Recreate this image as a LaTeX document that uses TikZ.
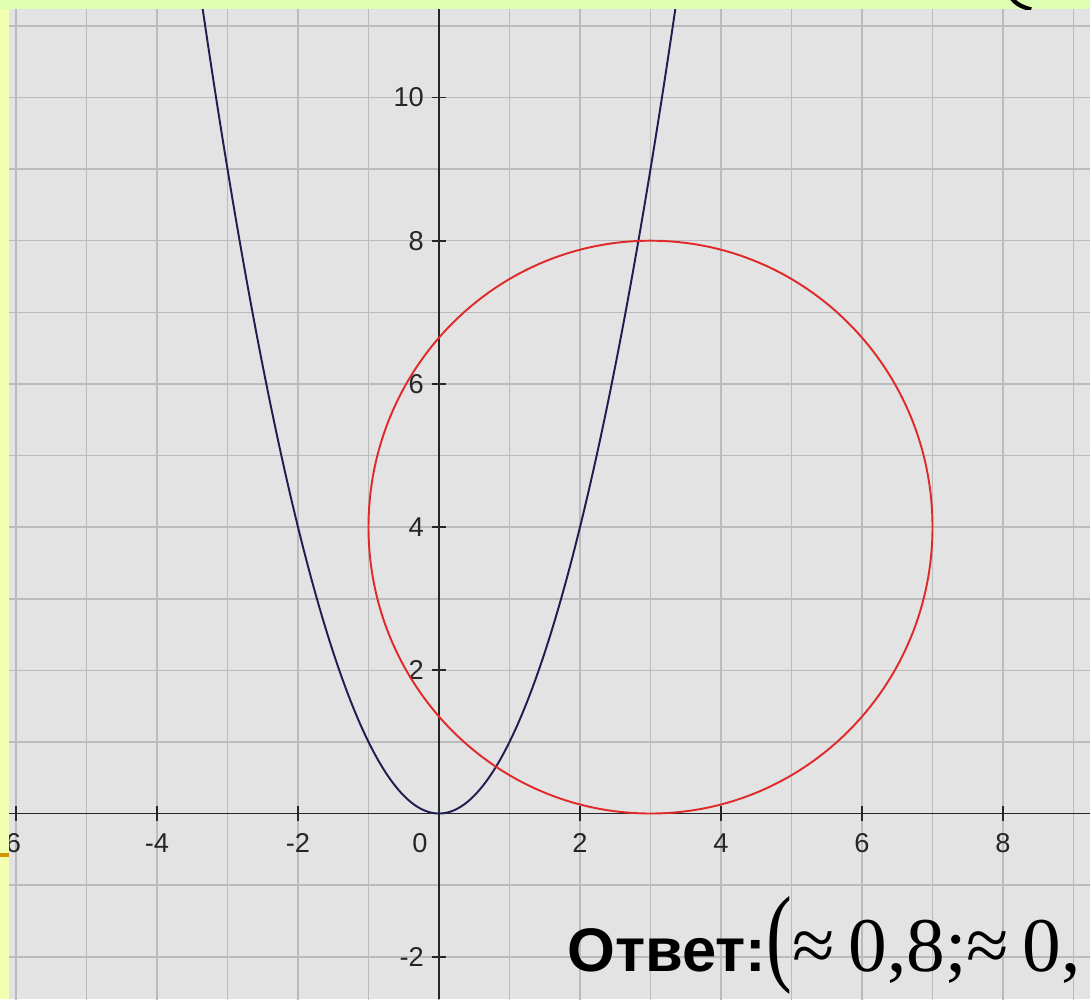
\documentclass[tikz,border=0pt]{standalone}
\usepackage{graphicx}
\usepackage{fontspec}
\setmainfont{Liberation Serif}
\setsansfont{Liberation Sans}
\usetikzlibrary{positioning}
\definecolor{panelgray}{HTML}{E3E3E3}
\definecolor{gridgray}{HTML}{BBBBBB}
\definecolor{slidelime}{HTML}{DEFFB2}
\definecolor{slideyellow}{HTML}{F0FFB0}
\definecolor{parabnavy}{HTML}{1E1E50}
\definecolor{circred}{HTML}{E02A2A}
\definecolor{slideorange}{HTML}{D49400}

\begin{document}
\begin{tikzpicture}[x=1.41cm, y=1.432cm,
        gridline/.style={gridgray, line width=0.9pt},
        axisline/.style={black!85, line width=1.1pt},
        ticklabel/.style={font=\sffamily\fontsize{15.5}{16}\selectfont, text=black!85, inner sep=0pt},
        parab/.style={parabnavy, line width=1.1pt},
        circline/.style={circred, line width=1.1pt}]
        % Define the edges of the picture and of the plot panel
        \def\xmin{-6.227}
        \def\xmax{9.234}
        \def\ymin{-2.591}
        \def\ymax{11.362}
        \def\panelleft{-6.099}
        \def\paneltop{11.236}
        \useasboundingbox (\xmin,\ymin) rectangle (\xmax,\ymax);
        % Slide background
        \fill[slidelime] (\xmin,\ymin) rectangle (\xmax,\ymax);
        \begin{scope}
            % Clip to the plot panel
            \clip (\panelleft,\ymin) rectangle (\xmax,\paneltop);
            \fill[panelgray] (\panelleft,\ymin) rectangle (\xmax,\paneltop);
            % Draw the grid
            \draw[gridline, step=1] (-7,-3) grid (10,12);
            % Draw the axes
            \draw[axisline] (\panelleft,0) -- (\xmax,0);
            \draw[axisline] (0,\ymin) -- (0,\paneltop);
            % Ticks and labels
            \foreach \t in {-4,-2,2,4,6,8} {
                \draw[axisline] (\t,-0.1) -- (\t,0.1);
                \node[ticklabel] (xlabel\t) at (\t,-0.41) {\t};
            }
            \draw[axisline] (-6,-0.1) -- (-6,0.1);
            \node[ticklabel] (xlabel-6) at (-6.1,-0.41) {-6};
            \node[ticklabel] (xlabel0) at (-0.27,-0.41) {0};
            \foreach \t in {-2,2,4,6,8,10} {
                \draw[axisline] (-0.1,\t) -- (0.1,\t);
                \node[ticklabel, anchor=east] (ylabel\t) at (-0.21,\t) {\t};
            }
            % The parabola y = x^2 and the circle
            \draw[parab] plot[domain=-3.4:3.4, samples=200, smooth] (\x,{\x*\x});
            \draw[circline] (3,4) circle (4);
        \end{scope}
        % Left strip of the slide
        \fill[slideyellow] (\xmin,\ymin) rectangle (\panelleft,\paneltop);
        \fill[slideorange] (\xmin,-0.555) rectangle (\panelleft,-0.61);
        % Piece of the title above the plot
        \begin{scope}
            \clip (\xmin,\paneltop) rectangle (\xmax,\ymax);
            \draw[line width=2.4pt] (8.08,11.46) .. controls (8.14,11.33) and (8.24,11.27) .. (8.40,11.23);
        \end{scope}
        % The answer
        \node[anchor=base west, inner sep=0pt] (answer) at (1.816,-2.2)
            {{\sffamily\bfseries\fontsize{35}{35}\selectfont Ответ:}{\fontsize{44}{44}\selectfont\scalebox{1}[1.4]{(}≈\hspace{0.18em}0,8;≈\hspace{0.18em}0,}};
\end{tikzpicture}
\end{document}
